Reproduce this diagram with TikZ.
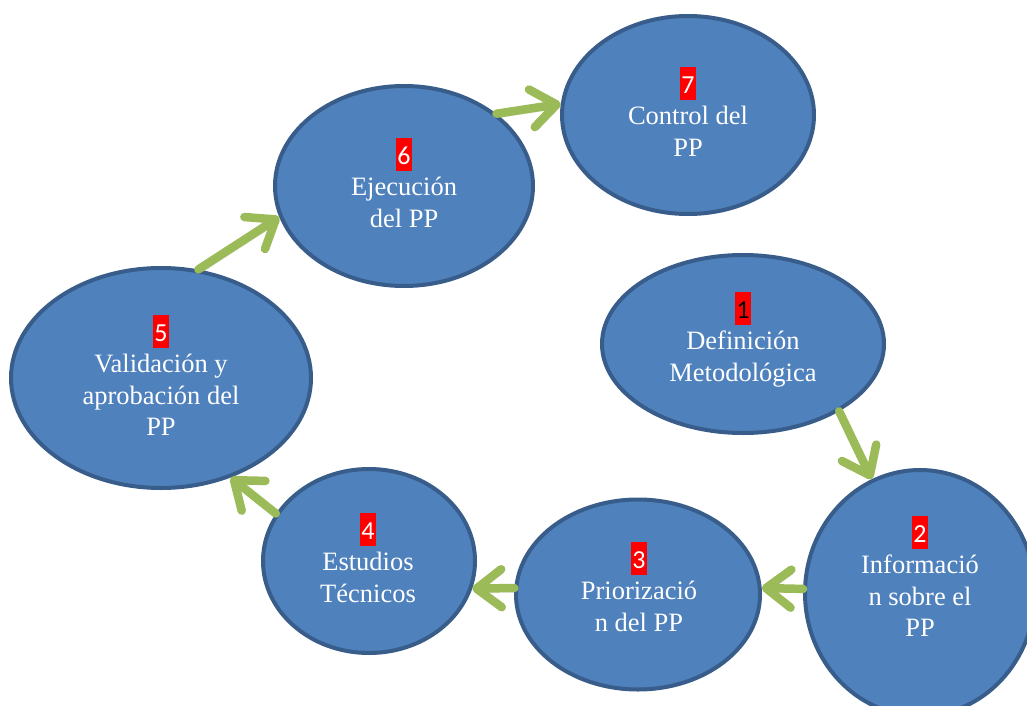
\documentclass[tikz,border=0pt]{standalone}
\usepackage{fontspec}
\setmainfont{Liberation Serif}
\newfontfamily\numfont{Carlito}
\usetikzlibrary{arrows.meta,shapes.geometric}
\definecolor{nodeblue}{HTML}{4F81BD}
\definecolor{nodeedge}{HTML}{385D8A}
\definecolor{arrowgreen}{HTML}{9BBB59}
\newcommand\numbox[2][white]{{\setlength\fboxsep{0pt}\colorbox{red}{\rule[-7pt]{0pt}{33pt}\hspace{1pt}\textcolor{#1}{\numfont\fontsize{26}{26}\selectfont #2}\hspace{1pt}}}}
\begin{document}
\begin{tikzpicture}[x=1pt,y=-1pt,
  stage/.style={ellipse, draw=nodeedge, fill=nodeblue, line width=4pt, inner sep=0pt},
  stagetext/.style={align=center, text=white, anchor=north, inner sep=0pt,
    font=\fontsize{26.5}{31.5}\selectfont},
  flow/.style={draw=arrowgreen, line width=8.5pt, line cap=round,
    -{Straight Barb[length=25pt,width=38pt,round]},
    preaction={draw=black, draw opacity=0.12, transform canvas={shift={(2pt,-4pt)}}}}]
\useasboundingbox (0,0) rectangle (1027,706);
\clip (0,0) rectangle (1027,706);

\node[stage, minimum width=282pt, minimum height=178pt] (e1) at (743,344) {};
\node[stage, minimum width=230pt, minimum height=246pt] (e2) at (920,593) {};
\node[stage, minimum width=244pt, minimum height=190pt] (e3) at (638,594.5) {};
\node[stage, minimum width=212pt, minimum height=184pt] (e4) at (369,561) {};
\node[stage, minimum width=300pt, minimum height=220pt] (e5) at (161,378) {};
\node[stage, minimum width=258pt, minimum height=200pt] (e6) at (404,186) {};
\node[stage, minimum width=252pt, minimum height=198pt] (e7) at (688,115) {};

\node[stagetext] (t1) at (743,292) {\numbox[black]{1}\\Definición\\Metodológica};
\node[stagetext] (t2) at (920,516) {\numbox{2}\\Informació\\n sobre el\\PP};
\node[stagetext] (t3) at (639,542) {\numbox{3}\\Priorizació\\n del PP};
\node[stagetext] (t4) at (368,513) {\numbox{4}\\Estudios\\Técnicos};
\node[stagetext] (t5) at (161,315) {\numbox{5}\\Validación y\\aprobación del\\PP};
\node[stagetext] (t6) at (404,138) {\numbox{6}\\Ejecución\\del PP};
\node[stagetext] (t7) at (688,67) {\numbox{7}\\Control del\\PP};

\draw[flow] (e1.-35) -- (e2.113);
\draw[flow] (e2.178) -- (e3.3);
\draw[flow] (e3.177) -- (e4.-15);
\draw[flow] (e4.153) -- (e5.-55);
\draw[flow] (e5.71) -- (e6.194);
\draw[flow] (e6.38) -- (e7.175);
\end{tikzpicture}
\end{document}
